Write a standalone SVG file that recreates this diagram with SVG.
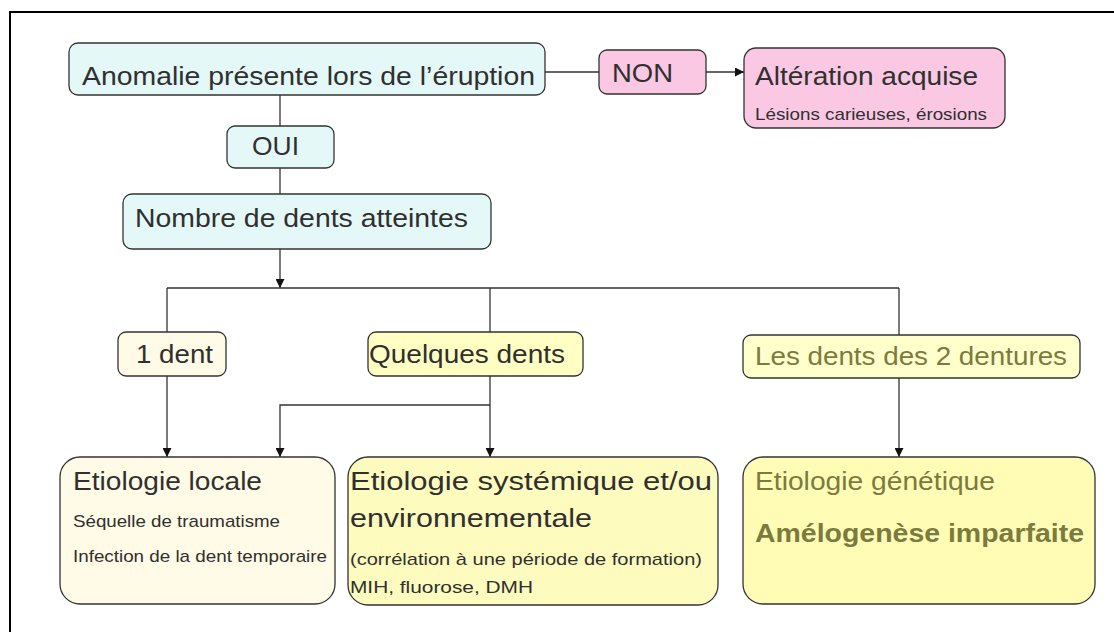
<svg xmlns="http://www.w3.org/2000/svg" width="1114" height="632" viewBox="0 0 1114 632">
<defs>
<marker id="arr" viewBox="0 0 10 10" refX="10" refY="5" markerWidth="9" markerHeight="9" markerUnits="userSpaceOnUse" orient="auto">
<path d="M0,0 L10,5 L0,10 z" fill="#111"/>
</marker>
</defs>
<style>
text{font-family:"Liberation Sans",Arial,sans-serif;}
.box{stroke:#333;stroke-width:1.3;}
.cyan{fill:#e4f8f8;}
.pink{fill:#fac8e2;}
.cream{fill:#fffbe6;}
.yel{fill:#ffffc4;}
.yel2{fill:#ffffcc;}
.yel3{fill:#fdfbbe;}
.yel4{fill:#fffcb6;}
.big{font-size:25.5px;}
.small{font-size:17px;}
.dark{fill:#303030;}
.olive{fill:#7b7b3e;}
.conn{stroke:#333;stroke-width:1.3;fill:none;}
</style>
<rect width="1114" height="632" fill="#fff"/>
<path d="M10,632 V12 H1114" fill="none" stroke="#000" stroke-width="2"/>

<g id="connectors">
<line class="conn" x1="545" y1="72" x2="599" y2="72"/>
<line class="conn" x1="706" y1="72" x2="744" y2="72" marker-end="url(#arr)"/>
<line class="conn" x1="280" y1="95" x2="280" y2="126"/>
<line class="conn" x1="280" y1="168" x2="280" y2="194"/>
<line class="conn" x1="280" y1="249" x2="280" y2="288" marker-end="url(#arr)"/>
<line class="conn" x1="167" y1="288" x2="899" y2="288"/>
<line class="conn" x1="167" y1="288" x2="167" y2="332"/>
<line class="conn" x1="490" y1="288" x2="490" y2="332"/>
<line class="conn" x1="899" y1="288" x2="899" y2="335"/>
<line class="conn" x1="167" y1="376" x2="167" y2="457" marker-end="url(#arr)"/>
<line class="conn" x1="490" y1="376" x2="490" y2="457" marker-end="url(#arr)"/>
<path class="conn" d="M490,405 H280 V457" marker-end="url(#arr)"/>
<line class="conn" x1="899" y1="378" x2="899" y2="457" marker-end="url(#arr)"/>
</g>

<g id="n-anomalie">
<rect class="box cyan" x="69" y="43" width="476" height="52" rx="9"/>
<text class="big dark" x="82" y="85" textLength="453" lengthAdjust="spacingAndGlyphs">Anomalie présente lors de l’éruption</text>
</g>

<g id="n-non">
<rect class="box pink" x="599" y="50" width="107" height="44" rx="8"/>
<text class="big dark" x="612" y="82" textLength="61" lengthAdjust="spacingAndGlyphs">NON</text>
</g>

<g id="n-alteration">
<rect class="box pink" x="744" y="48" width="261" height="80" rx="12"/>
<text class="big dark" x="755" y="85" textLength="223" lengthAdjust="spacingAndGlyphs">Altération acquise</text>
<text class="small dark" x="755" y="120" textLength="232" lengthAdjust="spacingAndGlyphs">Lésions carieuses, érosions</text>
</g>

<g id="n-oui">
<rect class="box cyan" x="227" y="126" width="107" height="42" rx="8"/>
<text class="big dark" x="252" y="155" textLength="47" lengthAdjust="spacingAndGlyphs">OUI</text>
</g>

<g id="n-nombre">
<rect class="box cyan" x="123" y="194" width="368" height="55" rx="9"/>
<text class="big dark" x="135" y="227" textLength="333" lengthAdjust="spacingAndGlyphs">Nombre de dents atteintes</text>
</g>

<g id="n-1dent">
<rect class="box cream" x="118" y="332" width="108" height="44" rx="8"/>
<text class="big dark" x="136" y="363" textLength="77" lengthAdjust="spacingAndGlyphs">1 dent</text>
</g>

<g id="n-quelques">
<rect class="box yel" x="368" y="332" width="215" height="44" rx="8"/>
<text class="big dark" x="369" y="363" textLength="196" lengthAdjust="spacingAndGlyphs">Quelques dents</text>
</g>

<g id="n-lesdents">
<rect class="box yel2" x="743" y="335" width="337" height="43" rx="8"/>
<text class="big olive" x="755" y="365" textLength="312" lengthAdjust="spacingAndGlyphs">Les dents des 2 dentures</text>
</g>

<g id="n-locale">
<rect class="box cream" x="60" y="457" width="275" height="147" rx="20"/>
<text class="big dark" x="73" y="490" textLength="189" lengthAdjust="spacingAndGlyphs">Etiologie locale</text>
<text class="small dark" x="73" y="527" textLength="207" lengthAdjust="spacingAndGlyphs">Séquelle de traumatisme</text>
<text class="small dark" x="73" y="562" textLength="254" lengthAdjust="spacingAndGlyphs">Infection de la dent temporaire</text>
</g>

<g id="n-systemique">
<rect class="box yel3" x="348" y="457" width="370" height="148" rx="20"/>
<text class="big dark" x="350" y="490" textLength="362" lengthAdjust="spacingAndGlyphs">Etiologie systémique et/ou</text>
<text class="big dark" x="350" y="527" textLength="242" lengthAdjust="spacingAndGlyphs">environnementale</text>
<text class="small dark" x="350" y="565" textLength="352" lengthAdjust="spacingAndGlyphs">(corrélation à une période de formation)</text>
<text class="small dark" x="350" y="593" textLength="183" lengthAdjust="spacingAndGlyphs">MIH, fluorose, DMH</text>
</g>

<g id="n-genetique">
<rect class="box yel4" x="743" y="457" width="352" height="147" rx="20"/>
<text class="big olive" x="755" y="490" textLength="240" lengthAdjust="spacingAndGlyphs">Etiologie génétique</text>
<text class="olive" x="755" y="542" font-size="25.5" font-weight="bold" textLength="329" lengthAdjust="spacingAndGlyphs">Amélogenèse imparfaite</text>
</g>
</svg>
